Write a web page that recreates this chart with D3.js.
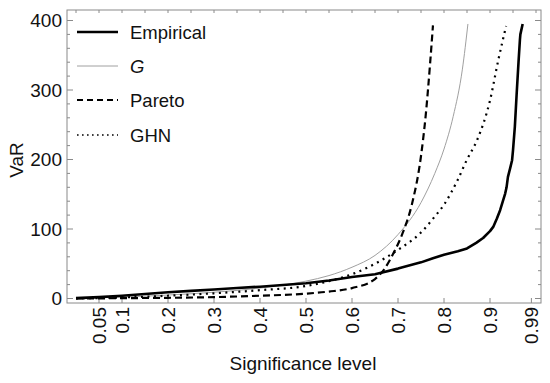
<!DOCTYPE html>
<html><head><meta charset="utf-8">
<script src="https://cdn.jsdelivr.net/npm/d3@7"></script>
<style>body{margin:0;background:#fff}svg{display:block;font-family:"Liberation Sans",Arial,sans-serif}</style>
</head><body><svg id="c" width="550" height="383"></svg>
<script>
// Data
const empAlpha = [0.0,0.05,0.1,0.15,0.2,0.25,0.3,0.35,0.4,0.45,0.5,0.55,0.6,0.65,0.7,0.75,0.776,0.8,0.83,0.85,0.87,0.885,0.9,0.907,0.915,0.922,0.928,0.933,0.936,0.939,0.944,0.948,0.95,0.954,0.958,0.962,0.965,0.966,0.971];
const empVaR   = [0.5,2,4,6.5,9,11,13,15,17,19.5,22,26,31,35,43,52,58,63,68,72,80,87,97,103,115,127,140,151,160,175,188,199,213,247,295,340,372,380,395];
const gAlpha = [0.0,0.1,0.2,0.3,0.4,0.5,0.55,0.6,0.65,0.7,0.75,0.78,0.8,0.82,0.84,0.852];
const gVaR   = [0.5,2,5,9,15,25,33,45,62,92,138,180,215,262,330,395];
const parAlpha = [0.0,0.1,0.2,0.3,0.4,0.5,0.55,0.6,0.65,0.67,0.69,0.71,0.73,0.75,0.76,0.77,0.776];
const parVaR   = [0,0.5,1,2,4,7,10,15,28,42,65,94,135,205,262,340,393];
const ghnAlpha = [0.0,0.1,0.2,0.3,0.4,0.5,0.55,0.6,0.65,0.7,0.75,0.78,0.8,0.83,0.85,0.872,0.9,0.918,0.935];
const ghnVaR   = [0,1.5,4,7.5,12,18,25,35,50,70,95,118,135,171,200,228,285,343,392];
const xTicks = [0.05,0.1,0.2,0.3,0.4,0.5,0.6,0.7,0.8,0.9,0.99];
const xTickLabels = ["0.05","0.1","0.2","0.3","0.4","0.5","0.6","0.7","0.8","0.9","0.99"];
const yTicks = [0,100,200,300,400];
const legendNames = ["Empirical","G","Pareto","GHN"];

const svg = d3.select("#c");
const L=67,R=541,T=10,B=303;
const x = d3.scaleLinear().domain([0,1]).range([76,536]);
const y = d3.scaleLinear().domain([0,400]).range([298.5,20.5]);
const frameCol="#8a8a8a";

// frame
svg.append("rect").attr("x",L).attr("y",T).attr("width",R-L).attr("height",B-T)
  .attr("fill","none").attr("stroke",frameCol).attr("stroke-width",1);

// left/right ticks
d3.range(0,401,20).forEach(v=>{
  const major = v%100===0, len = major?6:3;
  svg.append("line").attr("x1",L).attr("x2",L+len).attr("y1",y(v)).attr("y2",y(v)).attr("stroke",frameCol);
  svg.append("line").attr("x1",R).attr("x2",R-len).attr("y1",y(v)).attr("y2",y(v)).attr("stroke",frameCol);
});
yTicks.forEach(v=>{
  svg.append("text").attr("x",L-5).attr("y",y(v)).attr("dy","0.36em").attr("text-anchor","end")
    .attr("font-size",19).attr("fill","#111").text(v);
});
// bottom ticks
xTicks.forEach((v,i)=>{
  svg.append("line").attr("x1",x(v)).attr("x2",x(v)).attr("y1",B).attr("y2",B-5).attr("stroke",frameCol);
  svg.append("text").attr("transform",`translate(${x(v)},${B+4}) rotate(-90)`)
    .attr("text-anchor","end").attr("dy","0.36em").attr("font-size",19).attr("fill","#111").text(xTickLabels[i]);
});
// top ticks
d3.range(0,1.0001,0.05).forEach(v=>{
  svg.append("line").attr("x1",x(v)).attr("x2",x(v)).attr("y1",T).attr("y2",T+3).attr("stroke",frameCol);
});

// titles
svg.append("text").attr("x",303).attr("y",370).attr("text-anchor","middle").attr("font-size",19).attr("fill","#111").text("Significance level");
svg.append("text").attr("transform","translate(23,160) rotate(-90)").attr("text-anchor","middle").attr("font-size",19).attr("fill","#111").text("VaR");

// clip
svg.append("clipPath").attr("id","clip").append("rect").attr("x",L).attr("y",T).attr("width",R-L).attr("height",B-T);
const g = svg.append("g").attr("clip-path","url(#clip)");

const lineSmooth = d3.line().curve(d3.curveMonotoneX);
const lineLin = d3.line();
function pts(a,v){return a.map((d,i)=>[x(d),y(v[i])]);}

const styles = [
  {stroke:"#000", w:2.6, dash:null},
  {stroke:"#a0a0a0", w:1, dash:null},
  {stroke:"#000", w:2.2, dash:"7,4"},
  {stroke:"#000", w:2.2, dash:"2,4.5"}
];
g.append("path").attr("d",lineSmooth(pts(gAlpha,gVaR))).attr("fill","none").attr("stroke",styles[1].stroke).attr("stroke-width",styles[1].w);
g.append("path").attr("d",lineSmooth(pts(ghnAlpha,ghnVaR))).attr("fill","none").attr("stroke",styles[3].stroke).attr("stroke-width",styles[3].w).attr("stroke-dasharray",styles[3].dash);
g.append("path").attr("d",lineSmooth(pts(parAlpha,parVaR))).attr("fill","none").attr("stroke",styles[2].stroke).attr("stroke-width",styles[2].w).attr("stroke-dasharray",styles[2].dash);
g.append("path").attr("d",lineLin(pts(empAlpha,empVaR))).attr("fill","none").attr("stroke",styles[0].stroke).attr("stroke-width",styles[0].w).attr("stroke-linejoin","round");

// legend
const ly=[32,66,100,135];
legendNames.forEach((n,i)=>{
  const s=styles[i];
  svg.append("line").attr("x1",77).attr("x2",118).attr("y1",ly[i]).attr("y2",ly[i])
    .attr("stroke",s.stroke).attr("stroke-width",i===3?1.6:s.w).attr("stroke-dasharray",i===2?"6,4":(i===3?"1.6,3.4":null));
  const t=svg.append("text").attr("x",130).attr("y",ly[i]).attr("dy","0.36em").attr("font-size",18.5).attr("fill","#111").text(n);
  if(i===1) t.attr("font-style","italic");
});
</script></body></html>
